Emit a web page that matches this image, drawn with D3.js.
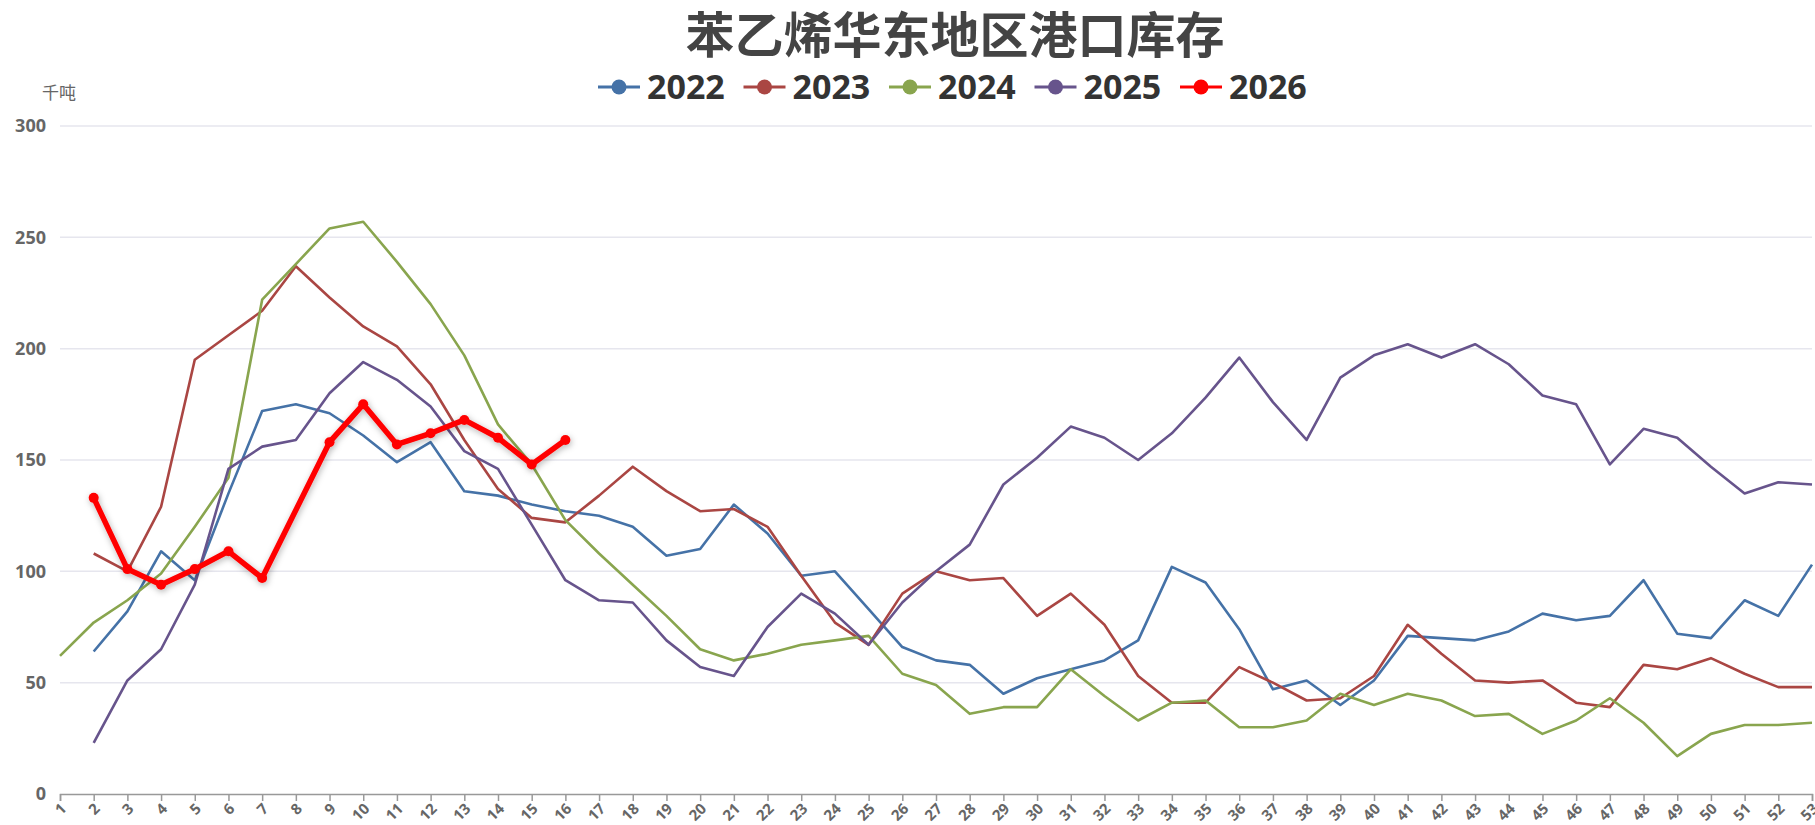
<!DOCTYPE html>
<html>
<head>
<meta charset="utf-8">
<script src="https://cdn.jsdelivr.net/npm/d3@7"></script>
<style>
  body { margin: 0; background: #fff; }
  svg { display: block; font-family: "Open Sans", "Noto Sans", "Noto Sans CJK SC", sans-serif; }
</style>
</head>
<body>
<svg id="chart" width="1815" height="825"></svg>
<script>
// week numbers on the x axis
var weeks = [1,2,3,4,5,6,7,8,9,10,11,12,13,14,15,16,17,18,19,20,21,22,23,24,25,26,27,
  28,29,30,31,32,33,34,35,36,37,38,39,40,41,42,43,44,45,46,47,48,49,50,51,52,53];

var yTicks = [0, 50, 100, 150, 200, 250, 300];

var years = ["2022", "2023", "2024", "2025", "2026"];
var colors = ["#4572A7", "#AA4643", "#89A54E", "#67548C", "#FF0000"];

// inventory, thousand tonnes, by week (null = no data)
var s2022 = [null, 64, 82, 109, 96, 135, 172, 175, 171, 161, 149, 158, 136, 134, 130, 127, 125, 120,
  107, 110, 130, 117, 98, 100, 83, 66, 60, 58, 45, 52, 56, 60, 69, 102, 95, 74, 47, 51, 40, 51, 71,
  70, 69, 73, 81, 78, 80, 96, 72, 70, 87, 80, 103];
var s2023 = [null, 108, 100, 129, 195, 206, 217, 237, 223, 210, 201, 184, 159, 137, 124, 122, 134,
  147, 136, 127, 128, 120, 98, 77, 67, 90, 100, 96, 97, 80, 90, 76, 53, 41, 41, 57, 50, 42, 43, 53,
  76, 63, 51, 50, 51, 41, 39, 58, 56, 61, 54, 48, 48];
var s2024 = [62, 77, 87, 99, 120, 142, 222, 238, 254, 257, 239, 220, 197, 166, 148, 123, 108, 94,
  80, 65, 60, 63, 67, 69, 71, 54, 49, 36, 39, 39, 56, 44, 33, 41, 42, 30, 30, 33, 45, 40, 45, 42, 35,
  36, 27, 33, 43, 32, 17, 27, 31, 31, 32];
var s2025 = [null, 23, 51, 65, 94, 146, 156, 159, 180, 194, 186, 174, 154, 146, 121, 96, 87, 86, 69,
  57, 53, 75, 90, 81, 67, 86, 100, 112, 139, 151, 165, 160, 150, 162, 178, 196, 176, 159, 187, 197,
  202, 196, 202, 193, 179, 175, 148, 164, 160, 147, 135, 140, 139];
var s2026 = [null, 133, 101, 94, 101, 109, 97, null, 158, 175, 157, 162, 168, 160, 148, 159];

var allSeries = [s2022, s2023, s2024, s2025, s2026];

var svg = d3.select("#chart");
var plotL = 60, plotR = 1812, plotT = 126, plotB = 794;

var x = d3.scalePoint().domain(weeks).range([plotL, plotR]);
var y = d3.scaleLinear().domain([0, 300]).range([plotB, plotT]);

var defs = svg.append("defs");
var f = defs.append("filter").attr("id", "shadow")
    .attr("x", "-10%").attr("y", "-10%").attr("width", "120%").attr("height", "130%");
f.append("feDropShadow").attr("dx", 1).attr("dy", 2).attr("stdDeviation", 3)
    .attr("flood-color", "#000").attr("flood-opacity", 0.3);

// grid
svg.append("g")
  .selectAll("line")
  .data(yTicks.filter(function(d) { return d > 0; }))
  .enter().append("line")
    .attr("x1", plotL).attr("x2", plotR)
    .attr("y1", function(d) { return y(d); })
    .attr("y2", function(d) { return y(d); })
    .attr("stroke", "#e6e6ee")
    .attr("stroke-width", 1.5);

// y axis labels
var yAxis = svg.append("g")
    .attr("transform", "translate(" + (plotL - 14) + ",0)")
    .call(d3.axisLeft(y).tickValues(yTicks).tickSize(0).tickPadding(0));
yAxis.select(".domain").remove();
yAxis.selectAll("text")
    .attr("font-size", 18).attr("font-weight", "bold").attr("fill", "#666")
    .attr("font-family", "Open Sans, sans-serif");

// x axis
var xAxis = svg.append("g")
    .attr("transform", "translate(0," + plotB + ")")
    .call(d3.axisBottom(x).tickSize(7).tickPadding(0));
xAxis.select(".domain").attr("stroke", "#999").attr("stroke-width", 1.5);
xAxis.selectAll(".tick line").attr("stroke", "#999").attr("stroke-width", 1.5);
xAxis.selectAll("text")
    .attr("font-size", 15).attr("font-weight", "bold").attr("fill", "#666")
    .attr("font-family", "Open Sans, sans-serif")
    .attr("text-anchor", "end")
    .attr("y", 0)
    .attr("dy", "0.35em")
    .attr("transform", "translate(3,12) rotate(-45)");

// unit
svg.append("text")
    .attr("x", 42).attr("y", 99)
    .attr("font-size", 17).attr("fill", "#666")
    .attr("font-family", "Noto Sans CJK SC, sans-serif")
    .text("千吨");

// lines
var line = d3.line()
    .defined(function(d) { return d != null; })
    .x(function(d, i) { return x(weeks[i]); })
    .y(function(d) { return y(d); });

var lines = svg.append("g");
allSeries.forEach(function(s, k) {
  if (k == 4) return;
  lines.append("path")
    .datum(s)
    .attr("d", line)
    .attr("fill", "none")
    .attr("stroke", colors[k])
    .attr("stroke-width", 2.6)
    .attr("stroke-linejoin", "round");
});

// 2026 drawn on top, thick, with markers (gaps connected)
var pts = [];
s2026.forEach(function(v, i) { if (v != null) pts.push([x(weeks[i]), y(v)]); });
var g26 = svg.append("g").attr("filter", "url(#shadow)");
g26.append("path")
    .attr("d", d3.line()(pts))
    .attr("fill", "none")
    .attr("stroke", colors[4])
    .attr("stroke-width", 5.5)
    .attr("stroke-linejoin", "round");
g26.selectAll("circle")
    .data(pts)
    .enter().append("circle")
    .attr("cx", function(d) { return d[0]; })
    .attr("cy", function(d) { return d[1]; })
    .attr("r", 5)
    .attr("fill", colors[4]);

// title
svg.append("text")
    .attr("x", 955).attr("y", 53)
    .attr("text-anchor", "middle")
    .attr("font-size", 49).attr("font-weight", "bold").attr("fill", "#444")
    .attr("font-family", "Noto Sans CJK SC, sans-serif")
    .text("苯乙烯华东地区港口库存");

// legend
var lg = svg.append("g").attr("transform", "translate(598,87)");
var item = lg.selectAll("g")
    .data(years)
    .enter().append("g")
    .attr("transform", function(d, i) { return "translate(" + (i * 145.5) + ",0)"; });
item.append("line")
    .attr("x1", 0).attr("x2", 42)
    .attr("stroke", function(d, i) { return colors[i]; })
    .attr("stroke-width", 3);
item.append("circle")
    .attr("cx", 21).attr("r", 7.5)
    .attr("fill", function(d, i) { return colors[i]; });
item.append("text")
    .attr("x", 49).attr("dy", "0.36em")
    .attr("font-size", 34).attr("font-weight", "bold").attr("fill", "#333")
    .attr("font-family", "Open Sans, sans-serif")
    .text(function(d) { return d; });
</script>
</body>
</html>
